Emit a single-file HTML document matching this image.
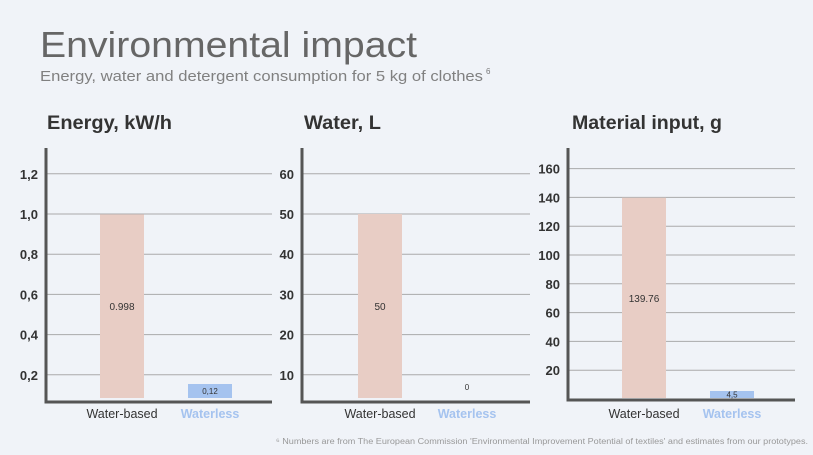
<!DOCTYPE html>
<html><head><meta charset="utf-8"><style>
html,body{margin:0;padding:0;background:#f0f3f8;}
svg{display:block;font-family:"Liberation Sans",sans-serif;}
</style></head><body>
<svg id="c" width="813" height="455" viewBox="0 0 813 455">
<rect x="0" y="0" width="813" height="455" fill="#f0f3f8"/>
<text x="40" y="57" font-size="36" fill="#666" textLength="377" lengthAdjust="spacingAndGlyphs">Environmental impact</text>
<text x="40" y="81" font-size="15" fill="#808080" textLength="443" lengthAdjust="spacingAndGlyphs">Energy, water and detergent consumption for 5 kg of clothes</text>
<text x="486" y="74" font-size="8" fill="#777">6</text>
<text x="808" y="444" font-size="8" fill="#999" text-anchor="end" textLength="532" lengthAdjust="spacingAndGlyphs">⁶ Numbers are from The European Commission 'Environmental Improvement Potential of textiles' and estimates from our prototypes.</text>
<g id="panels"></g>
</svg>
<script>
const categories = ["Water-based", "Waterless"];
const panelTitles = ["Energy, kW/h", "Water, L", "Material input, g"];
const energyValues = [0.998, 0.12];
const waterValues = [50, 0];
const materialValues = [139.76, 4.5];
const energyLabels = ["0.998", "0,12"];
const waterLabels = ["50", "0"];
const materialLabels = ["139.76", "4,5"];
const energyTicks = [0.2, 0.4, 0.6, 0.8, 1.0, 1.2];
const energyTickLabels = ["0,2", "0,4", "0,6", "0,8", "1,0", "1,2"];
const waterTicks = [10, 20, 30, 40, 50, 60];
const waterTickLabels = ["10", "20", "30", "40", "50", "60"];
const materialTicks = [20, 40, 60, 80, 100, 120, 140, 160];
const materialTickLabels = ["20", "40", "60", "80", "100", "120", "140", "160"];

const NS = "http://www.w3.org/2000/svg";
const root = document.getElementById("panels");
function mk(tag, attrs, parent) {
  const e = document.createElementNS(NS, tag);
  for (const k in attrs) e.setAttribute(k, attrs[k]);
  parent.appendChild(e);
  return e;
}
const layouts = [
  {ax: 46, right: 272, base: 402, zeroY: 415, pxPer: 201, titleX: 47, titleW: 125, bx: [100, 188], barBottom: 398,
   vals: energyValues, labs: energyLabels, ticks: energyTicks, tl: energyTickLabels, name: "energy"},
  {ax: 302, right: 530, base: 402, zeroY: 415, pxPer: 4.02, titleX: 304, titleW: 77, bx: [358, 445], barBottom: 398,
   vals: waterValues, labs: waterLabels, ticks: waterTicks, tl: waterTickLabels, name: "water"},
  {ax: 568, right: 795, base: 400, zeroY: 399, pxPer: 1.44, titleX: 572, titleW: 150, bx: [622, 710], barBottom: 398,
   vals: materialValues, labs: materialLabels, ticks: materialTicks, tl: materialTickLabels, name: "material"}
];
layouts.forEach((L, pi) => {
  const g = mk("g", {}, root);
  
  
  const y = v => L.zeroY - v * L.pxPer;
  const t = mk("text", {x: L.titleX, y: 129, "font-size": 19, "font-weight": "bold", fill: "#333", textLength: L.titleW, lengthAdjust: "spacingAndGlyphs"}, g);
  t.textContent = panelTitles[pi];
  
  
  L.ticks.forEach((tv, i) => {
    const gl = mk("line", {x1: L.ax, x2: L.right, y1: y(tv), y2: y(tv), stroke: "#aaa", "stroke-width": 1}, g);
    
    
    const lt = mk("text", {x: L.ax - 8, y: y(tv) + 5, "font-size": 13, "font-weight": "bold", fill: "#333", "text-anchor": "end"}, g);
    lt.textContent = L.tl[i];
    
    
  });
  L.vals.forEach((v, i) => {
    let top = y(v);
    if (v > 0 && L.barBottom - top < 7) top = L.barBottom - 7;
    if (v > 0 && i === 1 && pi === 0) top = Math.min(top, L.barBottom - 14);
    const h = v > 0 ? L.barBottom - top : 0;
    const b = mk("rect", {x: L.bx[i], y: top, width: 44, height: Math.max(h, 0), fill: i === 0 ? "#e8cdc5" : "#a5c3ef"}, g);
    
    
    const ly = i === 0 ? (top + L.barBottom) / 2 + 4 : (v > 0 ? (top + L.barBottom) / 2 + 3 : L.barBottom - 8);
    const vt = mk("text", {x: L.bx[i] + 22, y: ly, "font-size": i === 0 ? 10 : 8, fill: "#333", "text-anchor": "middle"}, g);
    vt.textContent = L.labs[i];
    
    
    const ct = mk("text", {x: L.bx[i] + 22, y: 418, "font-size": 12.5, fill: i === 0 ? "#333" : "#a5c3ef", "font-weight": i === 0 ? "normal" : "bold", "text-anchor": "middle"}, g);
    ct.textContent = categories[i];
    
    
  });
  const ya = mk("line", {x1: L.ax, x2: L.ax, y1: 148, y2: L.base + 1.5, stroke: "#555", "stroke-width": 3}, g);
  
  
  const xa = mk("line", {x1: L.ax - 1.5, x2: L.right, y1: L.base, y2: L.base, stroke: "#555", "stroke-width": 3}, g);
  
  
});
</script>
</body></html>
